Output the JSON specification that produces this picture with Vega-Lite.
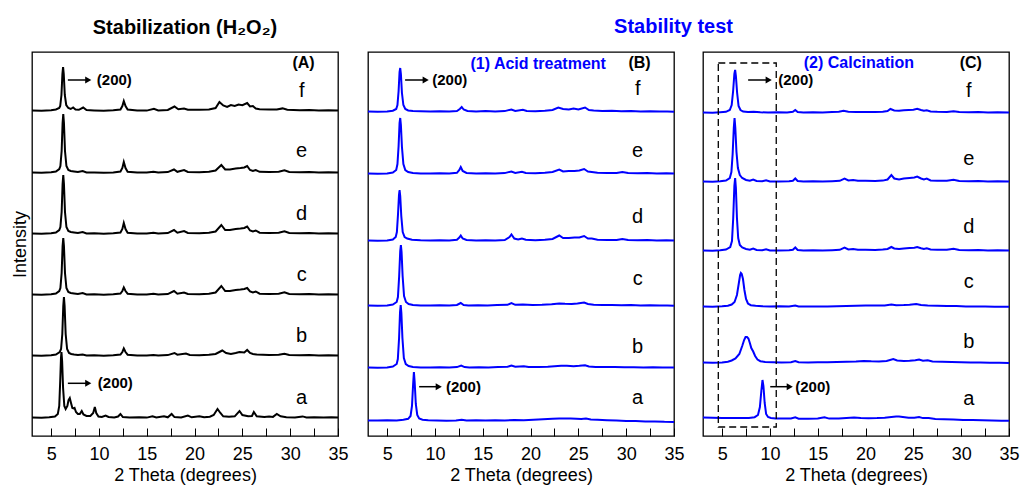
{
"$schema":"https://vega.github.io/schema/vega-lite/v6.json",
"padding":{"left":10,"right":5,"top":17,"bottom":4},
"config":{"font":"Liberation Sans","view":{"stroke":"black","strokeWidth":1.3},"text":{"font":"Liberation Sans"},"title":{"font":"Liberation Sans"},"axis":{"labelFont":"Liberation Sans","titleFont":"Liberation Sans"}},
"spacing":14,
"datasets":{
"A":[
{"s":"f","x":3,"y":325.5},{"s":"f","x":4,"y":325.2},{"s":"f","x":5,"y":325.8},{"s":"f","x":5.5,"y":326.5},{"s":"f","x":5.85,"y":328},{"s":"f","x":5.95,"y":330},{"s":"f","x":6.08,"y":341},{"s":"f","x":6.18,"y":362},{"s":"f","x":6.25,"y":369},{"s":"f","x":6.32,"y":362},{"s":"f","x":6.43,"y":341},{"s":"f","x":6.58,"y":331},{"s":"f","x":6.8,"y":328},{"s":"f","x":7.05,"y":327},{"s":"f","x":7.3,"y":328.5},{"s":"f","x":7.55,"y":326.5},{"s":"f","x":7.9,"y":326.2},{"s":"f","x":8.35,"y":328.5},{"s":"f","x":8.7,"y":326},{"s":"f","x":9.5,"y":325.6},{"s":"f","x":10.5,"y":325.3},{"s":"f","x":11.5,"y":325.7},{"s":"f","x":12.25,"y":326.5},{"s":"f","x":12.45,"y":330},{"s":"f","x":12.6,"y":335},{"s":"f","x":12.78,"y":330},{"s":"f","x":13,"y":326.5},{"s":"f","x":14,"y":325.6},{"s":"f","x":15,"y":325.4},{"s":"f","x":15.75,"y":327.3},{"s":"f","x":16.2,"y":325.6},{"s":"f","x":17.2,"y":326},{"s":"f","x":17.9,"y":329.5},{"s":"f","x":18.3,"y":326.8},{"s":"f","x":18.9,"y":327.5},{"s":"f","x":19.3,"y":326.2},{"s":"f","x":20.5,"y":326.3},{"s":"f","x":21.5,"y":326.6},{"s":"f","x":22.2,"y":328},{"s":"f","x":22.6,"y":334},{"s":"f","x":23,"y":330.5},{"s":"f","x":23.4,"y":329},{"s":"f","x":23.8,"y":331},{"s":"f","x":24.2,"y":330},{"s":"f","x":24.6,"y":331.5},{"s":"f","x":25,"y":330.8},{"s":"f","x":25.5,"y":333},{"s":"f","x":25.8,"y":329.5},{"s":"f","x":26.1,"y":330},{"s":"f","x":26.4,"y":327.5},{"s":"f","x":26.8,"y":326.8},{"s":"f","x":27.8,"y":326.4},{"s":"f","x":28.6,"y":326.6},{"s":"f","x":29.2,"y":327.6},{"s":"f","x":29.7,"y":326.2},{"s":"f","x":31,"y":325.8},{"s":"f","x":32,"y":326},{"s":"f","x":33,"y":325.5},{"s":"f","x":34,"y":325.8},{"s":"f","x":35,"y":325.4},
{"s":"e","x":3,"y":263.5},{"s":"e","x":4,"y":263.2},{"s":"e","x":5,"y":263.8},{"s":"e","x":5.5,"y":264.5},{"s":"e","x":5.85,"y":267},{"s":"e","x":5.97,"y":270},{"s":"e","x":6.1,"y":285},{"s":"e","x":6.2,"y":313},{"s":"e","x":6.27,"y":322},{"s":"e","x":6.34,"y":313},{"s":"e","x":6.45,"y":285},{"s":"e","x":6.6,"y":270},{"s":"e","x":6.8,"y":266},{"s":"e","x":7.05,"y":265},{"s":"e","x":7.4,"y":264.6},{"s":"e","x":7.8,"y":264},{"s":"e","x":8.3,"y":265},{"s":"e","x":8.7,"y":263.6},{"s":"e","x":9.5,"y":263.6},{"s":"e","x":10.5,"y":263.3},{"s":"e","x":11.5,"y":263.6},{"s":"e","x":12.25,"y":264.5},{"s":"e","x":12.45,"y":268},{"s":"e","x":12.6,"y":274},{"s":"e","x":12.78,"y":268},{"s":"e","x":13,"y":264.3},{"s":"e","x":14,"y":263.6},{"s":"e","x":15,"y":263.4},{"s":"e","x":15.7,"y":264.3},{"s":"e","x":16.2,"y":263.5},{"s":"e","x":17.2,"y":263.9},{"s":"e","x":17.85,"y":266.5},{"s":"e","x":18.2,"y":264.2},{"s":"e","x":18.9,"y":266},{"s":"e","x":19.3,"y":264},{"s":"e","x":20.5,"y":263.8},{"s":"e","x":21.5,"y":264.2},{"s":"e","x":22.2,"y":265.5},{"s":"e","x":22.8,"y":271},{"s":"e","x":23.2,"y":266.5},{"s":"e","x":23.7,"y":266.5},{"s":"e","x":24.3,"y":267.5},{"s":"e","x":24.8,"y":268},{"s":"e","x":25.2,"y":268.5},{"s":"e","x":25.5,"y":270},{"s":"e","x":25.8,"y":266},{"s":"e","x":26.1,"y":265},{"s":"e","x":26.4,"y":266},{"s":"e","x":26.8,"y":264.2},{"s":"e","x":27.8,"y":264},{"s":"e","x":28.8,"y":264.2},{"s":"e","x":29.4,"y":265.8},{"s":"e","x":29.9,"y":264},{"s":"e","x":31,"y":263.7},{"s":"e","x":32,"y":263.9},{"s":"e","x":33,"y":263.5},{"s":"e","x":34,"y":263.8},{"s":"e","x":35,"y":263.4},
{"s":"d","x":3,"y":202.5},{"s":"d","x":4,"y":202.3},{"s":"d","x":5,"y":202.8},{"s":"d","x":5.5,"y":203.5},{"s":"d","x":5.85,"y":206},{"s":"d","x":5.97,"y":209},{"s":"d","x":6.1,"y":224},{"s":"d","x":6.2,"y":252},{"s":"d","x":6.27,"y":261},{"s":"d","x":6.34,"y":252},{"s":"d","x":6.45,"y":224},{"s":"d","x":6.6,"y":209},{"s":"d","x":6.8,"y":205},{"s":"d","x":7.05,"y":204},{"s":"d","x":7.4,"y":203.5},{"s":"d","x":7.8,"y":203},{"s":"d","x":8.3,"y":204},{"s":"d","x":8.7,"y":202.6},{"s":"d","x":9.5,"y":202.7},{"s":"d","x":10.5,"y":202.3},{"s":"d","x":11.5,"y":202.7},{"s":"d","x":12.25,"y":203.5},{"s":"d","x":12.45,"y":207},{"s":"d","x":12.6,"y":213},{"s":"d","x":12.78,"y":207},{"s":"d","x":13,"y":203.3},{"s":"d","x":14,"y":202.6},{"s":"d","x":15,"y":202.4},{"s":"d","x":15.7,"y":203.3},{"s":"d","x":16.2,"y":202.5},{"s":"d","x":17.2,"y":202.9},{"s":"d","x":17.85,"y":206},{"s":"d","x":18.2,"y":203.3},{"s":"d","x":18.9,"y":205},{"s":"d","x":19.3,"y":203},{"s":"d","x":20.5,"y":202.8},{"s":"d","x":21.5,"y":203.2},{"s":"d","x":22.2,"y":204.5},{"s":"d","x":22.8,"y":211},{"s":"d","x":23.2,"y":206},{"s":"d","x":23.7,"y":206},{"s":"d","x":24.3,"y":207},{"s":"d","x":24.8,"y":207.5},{"s":"d","x":25.2,"y":208},{"s":"d","x":25.5,"y":209.5},{"s":"d","x":25.8,"y":205.5},{"s":"d","x":26.1,"y":204.5},{"s":"d","x":26.4,"y":205.5},{"s":"d","x":26.8,"y":203.3},{"s":"d","x":27.8,"y":203},{"s":"d","x":28.8,"y":203.2},{"s":"d","x":29.4,"y":204.8},{"s":"d","x":29.9,"y":203},{"s":"d","x":31,"y":202.7},{"s":"d","x":32,"y":202.9},{"s":"d","x":33,"y":202.5},{"s":"d","x":34,"y":202.8},{"s":"d","x":35,"y":202.4},
{"s":"c","x":3,"y":141.5},{"s":"c","x":4,"y":141.3},{"s":"c","x":5,"y":141.8},{"s":"c","x":5.5,"y":142.5},{"s":"c","x":5.85,"y":145},{"s":"c","x":5.97,"y":148},{"s":"c","x":6.1,"y":163},{"s":"c","x":6.2,"y":190},{"s":"c","x":6.27,"y":198},{"s":"c","x":6.34,"y":190},{"s":"c","x":6.45,"y":163},{"s":"c","x":6.6,"y":148},{"s":"c","x":6.8,"y":144},{"s":"c","x":7.05,"y":143},{"s":"c","x":7.4,"y":142.5},{"s":"c","x":7.8,"y":142},{"s":"c","x":8.3,"y":143},{"s":"c","x":8.7,"y":141.6},{"s":"c","x":9.5,"y":141.7},{"s":"c","x":10.5,"y":141.3},{"s":"c","x":11.5,"y":141.7},{"s":"c","x":12.25,"y":142.5},{"s":"c","x":12.45,"y":145},{"s":"c","x":12.6,"y":148.5},{"s":"c","x":12.78,"y":145},{"s":"c","x":13,"y":142.3},{"s":"c","x":14,"y":141.6},{"s":"c","x":15,"y":141.4},{"s":"c","x":15.7,"y":142.2},{"s":"c","x":16.2,"y":141.5},{"s":"c","x":17.2,"y":141.9},{"s":"c","x":17.85,"y":145},{"s":"c","x":18.2,"y":142.3},{"s":"c","x":18.9,"y":143.5},{"s":"c","x":19.3,"y":142},{"s":"c","x":20.5,"y":141.8},{"s":"c","x":21.5,"y":142.2},{"s":"c","x":22.2,"y":143.5},{"s":"c","x":22.8,"y":150},{"s":"c","x":23.2,"y":145},{"s":"c","x":23.7,"y":145},{"s":"c","x":24.3,"y":146},{"s":"c","x":24.8,"y":146.5},{"s":"c","x":25.2,"y":147},{"s":"c","x":25.5,"y":148},{"s":"c","x":25.8,"y":144.5},{"s":"c","x":26.1,"y":143.5},{"s":"c","x":26.4,"y":144.5},{"s":"c","x":26.8,"y":142.3},{"s":"c","x":27.8,"y":142},{"s":"c","x":28.8,"y":142.2},{"s":"c","x":29.4,"y":143.8},{"s":"c","x":29.9,"y":142},{"s":"c","x":31,"y":141.7},{"s":"c","x":32,"y":141.9},{"s":"c","x":33,"y":141.5},{"s":"c","x":34,"y":141.8},{"s":"c","x":35,"y":141.4},
{"s":"b","x":3,"y":80.5},{"s":"b","x":4,"y":80.3},{"s":"b","x":5,"y":80.8},{"s":"b","x":5.5,"y":81.5},{"s":"b","x":5.9,"y":84},{"s":"b","x":6.04,"y":87},{"s":"b","x":6.17,"y":102},{"s":"b","x":6.27,"y":130},{"s":"b","x":6.34,"y":139},{"s":"b","x":6.41,"y":130},{"s":"b","x":6.52,"y":102},{"s":"b","x":6.67,"y":87},{"s":"b","x":6.87,"y":83},{"s":"b","x":7.1,"y":82},{"s":"b","x":7.4,"y":81.5},{"s":"b","x":7.8,"y":81},{"s":"b","x":8.3,"y":81.5},{"s":"b","x":8.7,"y":80.6},{"s":"b","x":9.5,"y":80.7},{"s":"b","x":10.5,"y":80.3},{"s":"b","x":11.5,"y":80.7},{"s":"b","x":12.25,"y":81.5},{"s":"b","x":12.45,"y":84},{"s":"b","x":12.6,"y":87.5},{"s":"b","x":12.78,"y":84},{"s":"b","x":13,"y":81.3},{"s":"b","x":14,"y":80.6},{"s":"b","x":15,"y":80.4},{"s":"b","x":15.7,"y":81},{"s":"b","x":16.2,"y":80.5},{"s":"b","x":17.2,"y":80.9},{"s":"b","x":17.9,"y":83},{"s":"b","x":18.2,"y":81.3},{"s":"b","x":19.1,"y":82.5},{"s":"b","x":19.5,"y":81},{"s":"b","x":20.5,"y":80.8},{"s":"b","x":21.5,"y":81.2},{"s":"b","x":22.2,"y":82},{"s":"b","x":22.9,"y":85.5},{"s":"b","x":23.3,"y":83},{"s":"b","x":23.8,"y":82},{"s":"b","x":24.3,"y":83},{"s":"b","x":24.7,"y":84},{"s":"b","x":25.2,"y":83.5},{"s":"b","x":25.5,"y":86},{"s":"b","x":25.8,"y":83},{"s":"b","x":26.1,"y":82},{"s":"b","x":26.5,"y":81.5},{"s":"b","x":27.8,"y":81},{"s":"b","x":28.8,"y":81.2},{"s":"b","x":29.4,"y":82.3},{"s":"b","x":29.9,"y":81},{"s":"b","x":31,"y":80.7},{"s":"b","x":32,"y":80.9},{"s":"b","x":33,"y":80.5},{"s":"b","x":34,"y":80.8},{"s":"b","x":35,"y":80.4},
{"s":"a","x":3,"y":18.5},{"s":"a","x":4,"y":18.3},{"s":"a","x":4.8,"y":18.8},{"s":"a","x":5.4,"y":19.5},{"s":"a","x":5.7,"y":22},{"s":"a","x":5.85,"y":30},{"s":"a","x":5.95,"y":55},{"s":"a","x":6.03,"y":78},{"s":"a","x":6.08,"y":84},{"s":"a","x":6.15,"y":75},{"s":"a","x":6.25,"y":48},{"s":"a","x":6.38,"y":30},{"s":"a","x":6.52,"y":27},{"s":"a","x":6.7,"y":30},{"s":"a","x":6.82,"y":36},{"s":"a","x":6.95,"y":38},{"s":"a","x":7.08,"y":33},{"s":"a","x":7.22,"y":28},{"s":"a","x":7.35,"y":27.5},{"s":"a","x":7.45,"y":28},{"s":"a","x":7.6,"y":24},{"s":"a","x":7.8,"y":22},{"s":"a","x":8,"y":22},{"s":"a","x":8.2,"y":25},{"s":"a","x":8.38,"y":21.5},{"s":"a","x":8.7,"y":20},{"s":"a","x":9.1,"y":20},{"s":"a","x":9.4,"y":23},{"s":"a","x":9.57,"y":29},{"s":"a","x":9.72,"y":23},{"s":"a","x":9.95,"y":19.5},{"s":"a","x":10.3,"y":19},{"s":"a","x":10.7,"y":20.5},{"s":"a","x":11,"y":19},{"s":"a","x":11.6,"y":18.6},{"s":"a","x":12,"y":19.5},{"s":"a","x":12.25,"y":22},{"s":"a","x":12.5,"y":19},{"s":"a","x":13.2,"y":18.5},{"s":"a","x":14.2,"y":18.7},{"s":"a","x":15,"y":18.4},{"s":"a","x":15.6,"y":19.8},{"s":"a","x":16,"y":18.5},{"s":"a","x":16.8,"y":19.8},{"s":"a","x":17.2,"y":18.7},{"s":"a","x":17.6,"y":22},{"s":"a","x":17.9,"y":18.9},{"s":"a","x":18.6,"y":18.6},{"s":"a","x":19.3,"y":20.5},{"s":"a","x":19.7,"y":18.7},{"s":"a","x":20.5,"y":19.8},{"s":"a","x":21,"y":18.7},{"s":"a","x":21.6,"y":19.3},{"s":"a","x":22,"y":21},{"s":"a","x":22.4,"y":27},{"s":"a","x":22.7,"y":23},{"s":"a","x":23,"y":19.7},{"s":"a","x":23.6,"y":19.2},{"s":"a","x":24.2,"y":19.7},{"s":"a","x":24.7,"y":25},{"s":"a","x":25,"y":21},{"s":"a","x":25.6,"y":19.7},{"s":"a","x":26,"y":20},{"s":"a","x":26.2,"y":24},{"s":"a","x":26.5,"y":19.7},{"s":"a","x":27.3,"y":18.9},{"s":"a","x":27.8,"y":19.6},{"s":"a","x":28.2,"y":19.1},{"s":"a","x":28.6,"y":22},{"s":"a","x":29,"y":19.7},{"s":"a","x":29.6,"y":18.8},{"s":"a","x":30.5,"y":18.6},{"s":"a","x":31.3,"y":19.6},{"s":"a","x":31.7,"y":18.6},{"s":"a","x":32.5,"y":18.8},{"s":"a","x":33.5,"y":18.5},{"s":"a","x":34.3,"y":18.8},{"s":"a","x":35,"y":18.5}
],
"B":[
{"s":"f","x":3,"y":324.4},{"s":"f","x":4,"y":324.2},{"s":"f","x":5,"y":324.6},{"s":"f","x":5.6,"y":325.3},{"s":"f","x":5.95,"y":327},{"s":"f","x":6.08,"y":331},{"s":"f","x":6.2,"y":345},{"s":"f","x":6.3,"y":364},{"s":"f","x":6.37,"y":368},{"s":"f","x":6.44,"y":362},{"s":"f","x":6.55,"y":343},{"s":"f","x":6.7,"y":331},{"s":"f","x":6.9,"y":327},{"s":"f","x":7.2,"y":325.5},{"s":"f","x":7.7,"y":325},{"s":"f","x":8.5,"y":324.8},{"s":"f","x":9.5,"y":324.5},{"s":"f","x":10.5,"y":324.7},{"s":"f","x":11.5,"y":324.4},{"s":"f","x":12.3,"y":325},{"s":"f","x":12.6,"y":327},{"s":"f","x":12.8,"y":329},{"s":"f","x":13,"y":326.5},{"s":"f","x":13.4,"y":325},{"s":"f","x":14.3,"y":324.6},{"s":"f","x":15.3,"y":324.9},{"s":"f","x":16.3,"y":324.5},{"s":"f","x":17.3,"y":324.9},{"s":"f","x":18,"y":326.5},{"s":"f","x":18.4,"y":325},{"s":"f","x":19.2,"y":326.3},{"s":"f","x":19.6,"y":325},{"s":"f","x":20.5,"y":324.8},{"s":"f","x":21.5,"y":325.2},{"s":"f","x":22.3,"y":326},{"s":"f","x":22.9,"y":328.5},{"s":"f","x":23.4,"y":327},{"s":"f","x":24,"y":326.5},{"s":"f","x":24.5,"y":327.5},{"s":"f","x":25,"y":326.5},{"s":"f","x":25.7,"y":328.5},{"s":"f","x":26.1,"y":326},{"s":"f","x":26.6,"y":325.5},{"s":"f","x":27.5,"y":325},{"s":"f","x":28.5,"y":325.2},{"s":"f","x":29.5,"y":324.8},{"s":"f","x":30.5,"y":324.9},{"s":"f","x":31.5,"y":324.5},{"s":"f","x":32.5,"y":324.8},{"s":"f","x":33.5,"y":324.4},{"s":"f","x":34.3,"y":324.6},{"s":"f","x":35,"y":324.3},
{"s":"e","x":3,"y":262.4},{"s":"e","x":4,"y":262.2},{"s":"e","x":5,"y":262.6},{"s":"e","x":5.6,"y":263.5},{"s":"e","x":5.95,"y":266},{"s":"e","x":6.08,"y":272},{"s":"e","x":6.2,"y":290},{"s":"e","x":6.3,"y":313},{"s":"e","x":6.37,"y":318},{"s":"e","x":6.44,"y":311},{"s":"e","x":6.55,"y":289},{"s":"e","x":6.7,"y":272},{"s":"e","x":6.9,"y":266},{"s":"e","x":7.2,"y":264},{"s":"e","x":7.7,"y":263},{"s":"e","x":8.5,"y":262.6},{"s":"e","x":9.5,"y":262.4},{"s":"e","x":10.5,"y":262.7},{"s":"e","x":11.5,"y":262.4},{"s":"e","x":12.3,"y":263.2},{"s":"e","x":12.55,"y":266},{"s":"e","x":12.7,"y":269},{"s":"e","x":12.9,"y":265},{"s":"e","x":13.3,"y":263},{"s":"e","x":14.3,"y":262.6},{"s":"e","x":15.3,"y":262.8},{"s":"e","x":16.3,"y":262.5},{"s":"e","x":17.3,"y":262.9},{"s":"e","x":18,"y":264.5},{"s":"e","x":18.4,"y":263},{"s":"e","x":19.1,"y":264.3},{"s":"e","x":19.5,"y":263},{"s":"e","x":20.5,"y":262.8},{"s":"e","x":21.5,"y":263.2},{"s":"e","x":22.3,"y":264},{"s":"e","x":23,"y":266.5},{"s":"e","x":23.4,"y":264.5},{"s":"e","x":24,"y":265},{"s":"e","x":24.6,"y":265},{"s":"e","x":25.1,"y":265.5},{"s":"e","x":25.6,"y":267},{"s":"e","x":26,"y":264.5},{"s":"e","x":26.4,"y":264},{"s":"e","x":27,"y":263.3},{"s":"e","x":28,"y":263},{"s":"e","x":29,"y":263.1},{"s":"e","x":29.6,"y":264},{"s":"e","x":30.2,"y":262.9},{"s":"e","x":31.2,"y":262.7},{"s":"e","x":32.2,"y":262.9},{"s":"e","x":33.2,"y":262.5},{"s":"e","x":34.2,"y":262.7},{"s":"e","x":35,"y":262.4},
{"s":"d","x":3,"y":195.4},{"s":"d","x":4,"y":195.2},{"s":"d","x":5,"y":195.6},{"s":"d","x":5.6,"y":196.5},{"s":"d","x":5.9,"y":199},{"s":"d","x":6.02,"y":204},{"s":"d","x":6.14,"y":222},{"s":"d","x":6.24,"y":241},{"s":"d","x":6.3,"y":246},{"s":"d","x":6.37,"y":240},{"s":"d","x":6.48,"y":220},{"s":"d","x":6.63,"y":204},{"s":"d","x":6.83,"y":199},{"s":"d","x":7.1,"y":197.5},{"s":"d","x":7.6,"y":196.3},{"s":"d","x":8.5,"y":195.7},{"s":"d","x":9.5,"y":195.4},{"s":"d","x":10.5,"y":195.7},{"s":"d","x":11.5,"y":195.4},{"s":"d","x":12.3,"y":196.2},{"s":"d","x":12.55,"y":198.5},{"s":"d","x":12.7,"y":200.5},{"s":"d","x":12.9,"y":197.5},{"s":"d","x":13.3,"y":196},{"s":"d","x":14.3,"y":195.6},{"s":"d","x":15.3,"y":195.8},{"s":"d","x":16.3,"y":195.5},{"s":"d","x":17.3,"y":196},{"s":"d","x":17.8,"y":199},{"s":"d","x":18,"y":201.5},{"s":"d","x":18.3,"y":197.5},{"s":"d","x":18.7,"y":196.5},{"s":"d","x":19.1,"y":197.5},{"s":"d","x":19.5,"y":196.2},{"s":"d","x":20.5,"y":195.8},{"s":"d","x":21.5,"y":196.2},{"s":"d","x":22.3,"y":197},{"s":"d","x":23,"y":200.5},{"s":"d","x":23.4,"y":198},{"s":"d","x":24,"y":198},{"s":"d","x":24.6,"y":198.5},{"s":"d","x":25.1,"y":198.5},{"s":"d","x":25.6,"y":200},{"s":"d","x":26,"y":197.5},{"s":"d","x":26.4,"y":197.5},{"s":"d","x":27,"y":196.3},{"s":"d","x":28,"y":196},{"s":"d","x":29,"y":196.1},{"s":"d","x":29.6,"y":197},{"s":"d","x":30.2,"y":195.9},{"s":"d","x":31.2,"y":195.7},{"s":"d","x":32.2,"y":195.9},{"s":"d","x":33.2,"y":195.5},{"s":"d","x":34.2,"y":195.7},{"s":"d","x":35,"y":195.4},
{"s":"c","x":3,"y":130.4},{"s":"c","x":4,"y":130.2},{"s":"c","x":5,"y":130.6},{"s":"c","x":5.6,"y":131.5},{"s":"c","x":6,"y":134},{"s":"c","x":6.13,"y":139},{"s":"c","x":6.26,"y":160},{"s":"c","x":6.37,"y":185},{"s":"c","x":6.44,"y":191},{"s":"c","x":6.51,"y":184},{"s":"c","x":6.62,"y":160},{"s":"c","x":6.77,"y":140},{"s":"c","x":6.97,"y":134},{"s":"c","x":7.25,"y":132},{"s":"c","x":7.7,"y":131},{"s":"c","x":8.5,"y":130.6},{"s":"c","x":9.5,"y":130.4},{"s":"c","x":10.5,"y":130.7},{"s":"c","x":11.5,"y":130.4},{"s":"c","x":12.3,"y":131},{"s":"c","x":12.7,"y":133},{"s":"c","x":13,"y":131},{"s":"c","x":13.5,"y":130.6},{"s":"c","x":14.5,"y":130.8},{"s":"c","x":15.5,"y":130.5},{"s":"c","x":16.5,"y":130.9},{"s":"c","x":17.6,"y":131.2},{"s":"c","x":18,"y":133},{"s":"c","x":18.4,"y":131.2},{"s":"c","x":19.2,"y":131.5},{"s":"c","x":20.2,"y":130.9},{"s":"c","x":21.2,"y":131.2},{"s":"c","x":22.2,"y":131.8},{"s":"c","x":23,"y":132.5},{"s":"c","x":23.6,"y":132.2},{"s":"c","x":24.3,"y":132},{"s":"c","x":24.9,"y":132.5},{"s":"c","x":25.6,"y":133.5},{"s":"c","x":26,"y":132},{"s":"c","x":26.6,"y":131.3},{"s":"c","x":27.5,"y":131},{"s":"c","x":28.5,"y":131.1},{"s":"c","x":29.5,"y":130.8},{"s":"c","x":30.5,"y":130.9},{"s":"c","x":31.5,"y":130.5},{"s":"c","x":32.5,"y":130.8},{"s":"c","x":33.5,"y":130.4},{"s":"c","x":34.3,"y":130.6},{"s":"c","x":35,"y":130.3},
{"s":"b","x":3,"y":68.4},{"s":"b","x":4,"y":68.2},{"s":"b","x":5,"y":68.6},{"s":"b","x":5.6,"y":69.5},{"s":"b","x":6,"y":72},{"s":"b","x":6.12,"y":77},{"s":"b","x":6.25,"y":98},{"s":"b","x":6.35,"y":124},{"s":"b","x":6.42,"y":131},{"s":"b","x":6.49,"y":123},{"s":"b","x":6.6,"y":98},{"s":"b","x":6.75,"y":78},{"s":"b","x":6.95,"y":72},{"s":"b","x":7.25,"y":70},{"s":"b","x":7.7,"y":69},{"s":"b","x":8.5,"y":68.6},{"s":"b","x":9.5,"y":68.4},{"s":"b","x":10.5,"y":68.7},{"s":"b","x":11.5,"y":68.4},{"s":"b","x":12.3,"y":68.9},{"s":"b","x":12.75,"y":70.5},{"s":"b","x":13.1,"y":68.9},{"s":"b","x":13.6,"y":68.6},{"s":"b","x":14.6,"y":68.8},{"s":"b","x":15.6,"y":68.5},{"s":"b","x":16.6,"y":68.9},{"s":"b","x":17.6,"y":69.2},{"s":"b","x":18,"y":70.5},{"s":"b","x":18.4,"y":69.2},{"s":"b","x":19.3,"y":69.8},{"s":"b","x":19.8,"y":69},{"s":"b","x":20.8,"y":68.9},{"s":"b","x":21.8,"y":69.2},{"s":"b","x":22.5,"y":69.8},{"s":"b","x":23.2,"y":70.2},{"s":"b","x":23.8,"y":70.3},{"s":"b","x":24.5,"y":69.8},{"s":"b","x":25.1,"y":70.2},{"s":"b","x":25.7,"y":70.8},{"s":"b","x":26.1,"y":69.5},{"s":"b","x":26.8,"y":69.1},{"s":"b","x":27.8,"y":68.9},{"s":"b","x":28.8,"y":69},{"s":"b","x":29.8,"y":68.7},{"s":"b","x":30.8,"y":68.8},{"s":"b","x":31.8,"y":68.5},{"s":"b","x":32.8,"y":68.7},{"s":"b","x":33.8,"y":68.4},{"s":"b","x":35,"y":68.5},
{"s":"a","x":3,"y":15.6},{"s":"a","x":4,"y":15.4},{"s":"a","x":5,"y":15.8},{"s":"a","x":6,"y":15.6},{"s":"a","x":6.7,"y":16.2},{"s":"a","x":7.2,"y":17.2},{"s":"a","x":7.45,"y":20},{"s":"a","x":7.6,"y":30},{"s":"a","x":7.72,"y":52},{"s":"a","x":7.8,"y":64},{"s":"a","x":7.88,"y":54},{"s":"a","x":8,"y":32},{"s":"a","x":8.15,"y":21},{"s":"a","x":8.35,"y":17.5},{"s":"a","x":8.7,"y":16.3},{"s":"a","x":9.3,"y":15.8},{"s":"a","x":10.2,"y":15.6},{"s":"a","x":11.2,"y":15.3},{"s":"a","x":12.2,"y":15.6},{"s":"a","x":12.8,"y":16.2},{"s":"a","x":13.3,"y":15.5},{"s":"a","x":14.3,"y":15.7},{"s":"a","x":15.3,"y":15.4},{"s":"a","x":16.3,"y":15.7},{"s":"a","x":17.3,"y":15.5},{"s":"a","x":18.3,"y":15.9},{"s":"a","x":19.3,"y":15.8},{"s":"a","x":20.3,"y":16.3},{"s":"a","x":21.3,"y":16.8},{"s":"a","x":22.3,"y":17.2},{"s":"a","x":23,"y":17.4},{"s":"a","x":23.6,"y":17.6},{"s":"a","x":24.2,"y":17.5},{"s":"a","x":24.8,"y":17.2},{"s":"a","x":25.3,"y":17},{"s":"a","x":25.8,"y":17.6},{"s":"a","x":26.3,"y":16.6},{"s":"a","x":27,"y":16.2},{"s":"a","x":28,"y":15.8},{"s":"a","x":29,"y":15.5},{"s":"a","x":30,"y":15.1},{"s":"a","x":31,"y":15},{"s":"a","x":32,"y":14.6},{"s":"a","x":33,"y":14.6},{"s":"a","x":34,"y":14.2},{"s":"a","x":35,"y":14.1}
],
"C":[
{"s":"f","x":3,"y":323.4},{"s":"f","x":4,"y":323.2},{"s":"f","x":4.8,"y":323.7},{"s":"f","x":5.4,"y":324.2},{"s":"f","x":5.8,"y":326},{"s":"f","x":6,"y":331},{"s":"f","x":6.15,"y":345},{"s":"f","x":6.28,"y":362},{"s":"f","x":6.36,"y":366},{"s":"f","x":6.44,"y":360},{"s":"f","x":6.57,"y":343},{"s":"f","x":6.72,"y":330},{"s":"f","x":6.92,"y":326},{"s":"f","x":7.2,"y":324.5},{"s":"f","x":7.7,"y":324},{"s":"f","x":8.3,"y":324.2},{"s":"f","x":9,"y":323.7},{"s":"f","x":9.8,"y":323.5},{"s":"f","x":10.8,"y":323.7},{"s":"f","x":11.8,"y":323.5},{"s":"f","x":12.4,"y":324.2},{"s":"f","x":12.65,"y":326},{"s":"f","x":12.9,"y":324},{"s":"f","x":13.5,"y":323.6},{"s":"f","x":14.5,"y":323.8},{"s":"f","x":15.5,"y":323.6},{"s":"f","x":16.5,"y":323.9},{"s":"f","x":17.2,"y":324.2},{"s":"f","x":17.7,"y":325.2},{"s":"f","x":18.2,"y":324.3},{"s":"f","x":19,"y":324},{"s":"f","x":20,"y":324.1},{"s":"f","x":21,"y":323.9},{"s":"f","x":21.8,"y":324.3},{"s":"f","x":22.3,"y":325},{"s":"f","x":22.6,"y":327},{"s":"f","x":23,"y":325.5},{"s":"f","x":23.5,"y":325.3},{"s":"f","x":24,"y":325.8},{"s":"f","x":24.5,"y":326},{"s":"f","x":25,"y":326.2},{"s":"f","x":25.4,"y":327.2},{"s":"f","x":25.8,"y":326},{"s":"f","x":26.1,"y":325.3},{"s":"f","x":26.4,"y":325.8},{"s":"f","x":26.8,"y":324.6},{"s":"f","x":27.5,"y":324.2},{"s":"f","x":28.5,"y":324},{"s":"f","x":29.2,"y":324.8},{"s":"f","x":29.8,"y":323.9},{"s":"f","x":30.8,"y":323.7},{"s":"f","x":31.8,"y":323.9},{"s":"f","x":32.8,"y":323.5},{"s":"f","x":33.8,"y":323.7},{"s":"f","x":35,"y":323.4},
{"s":"e","x":3,"y":254.4},{"s":"e","x":4,"y":254.2},{"s":"e","x":4.8,"y":254.7},{"s":"e","x":5.4,"y":255.5},{"s":"e","x":5.8,"y":258},{"s":"e","x":5.97,"y":264},{"s":"e","x":6.1,"y":282},{"s":"e","x":6.22,"y":308},{"s":"e","x":6.3,"y":318},{"s":"e","x":6.38,"y":308},{"s":"e","x":6.5,"y":284},{"s":"e","x":6.65,"y":268},{"s":"e","x":6.85,"y":261},{"s":"e","x":7.1,"y":258},{"s":"e","x":7.5,"y":256},{"s":"e","x":7.9,"y":255.2},{"s":"e","x":8.25,"y":256.5},{"s":"e","x":8.6,"y":255},{"s":"e","x":9.2,"y":254.7},{"s":"e","x":9.6,"y":255.8},{"s":"e","x":10,"y":254.6},{"s":"e","x":11,"y":254.4},{"s":"e","x":12,"y":254.8},{"s":"e","x":12.4,"y":255.3},{"s":"e","x":12.65,"y":257.5},{"s":"e","x":12.9,"y":255},{"s":"e","x":13.5,"y":254.5},{"s":"e","x":14.5,"y":254.7},{"s":"e","x":15.5,"y":254.4},{"s":"e","x":16.5,"y":254.8},{"s":"e","x":17.3,"y":255.2},{"s":"e","x":17.8,"y":257.5},{"s":"e","x":18.2,"y":255.5},{"s":"e","x":18.7,"y":256},{"s":"e","x":19.2,"y":255.2},{"s":"e","x":20,"y":255.2},{"s":"e","x":21,"y":255},{"s":"e","x":21.8,"y":255.4},{"s":"e","x":22.3,"y":256.5},{"s":"e","x":22.7,"y":261},{"s":"e","x":23,"y":257.5},{"s":"e","x":23.5,"y":256.5},{"s":"e","x":24,"y":257.5},{"s":"e","x":24.6,"y":258},{"s":"e","x":25.1,"y":258.5},{"s":"e","x":25.4,"y":259.5},{"s":"e","x":25.8,"y":257.5},{"s":"e","x":26.1,"y":256.5},{"s":"e","x":26.4,"y":257.5},{"s":"e","x":26.8,"y":255.6},{"s":"e","x":27.5,"y":255.2},{"s":"e","x":28.5,"y":255.3},{"s":"e","x":29.2,"y":256.2},{"s":"e","x":29.8,"y":255},{"s":"e","x":30.8,"y":254.8},{"s":"e","x":31.8,"y":254.9},{"s":"e","x":32.8,"y":254.5},{"s":"e","x":33.8,"y":254.7},{"s":"e","x":35,"y":254.4},
{"s":"d","x":3,"y":185.4},{"s":"d","x":4,"y":185.2},{"s":"d","x":4.8,"y":185.7},{"s":"d","x":5.4,"y":186.5},{"s":"d","x":5.85,"y":189},{"s":"d","x":6.03,"y":195},{"s":"d","x":6.16,"y":218},{"s":"d","x":6.28,"y":250},{"s":"d","x":6.36,"y":258},{"s":"d","x":6.44,"y":248},{"s":"d","x":6.55,"y":218},{"s":"d","x":6.68,"y":198},{"s":"d","x":6.85,"y":191},{"s":"d","x":7.1,"y":188.5},{"s":"d","x":7.5,"y":187},{"s":"d","x":7.9,"y":186.2},{"s":"d","x":8.25,"y":187.5},{"s":"d","x":8.6,"y":186},{"s":"d","x":9.2,"y":185.7},{"s":"d","x":9.6,"y":186.8},{"s":"d","x":10,"y":185.6},{"s":"d","x":11,"y":185.4},{"s":"d","x":12,"y":185.8},{"s":"d","x":12.4,"y":186.3},{"s":"d","x":12.65,"y":188.5},{"s":"d","x":12.9,"y":186},{"s":"d","x":13.5,"y":185.5},{"s":"d","x":14.5,"y":185.7},{"s":"d","x":15.5,"y":185.4},{"s":"d","x":16.5,"y":185.8},{"s":"d","x":17.3,"y":186.2},{"s":"d","x":17.8,"y":188.5},{"s":"d","x":18.2,"y":186.5},{"s":"d","x":18.7,"y":187},{"s":"d","x":19.2,"y":186.2},{"s":"d","x":20,"y":186.2},{"s":"d","x":21,"y":186},{"s":"d","x":21.8,"y":186.4},{"s":"d","x":22.3,"y":187},{"s":"d","x":22.7,"y":189},{"s":"d","x":23,"y":187.5},{"s":"d","x":23.5,"y":187},{"s":"d","x":24,"y":187.5},{"s":"d","x":24.6,"y":188},{"s":"d","x":25.1,"y":188.3},{"s":"d","x":25.4,"y":189},{"s":"d","x":25.8,"y":187.8},{"s":"d","x":26.1,"y":187},{"s":"d","x":26.4,"y":187.8},{"s":"d","x":26.8,"y":186.5},{"s":"d","x":27.5,"y":186.2},{"s":"d","x":28.5,"y":186.3},{"s":"d","x":29.2,"y":187.3},{"s":"d","x":29.8,"y":186},{"s":"d","x":30.8,"y":185.8},{"s":"d","x":31.8,"y":185.9},{"s":"d","x":32.8,"y":185.5},{"s":"d","x":33.8,"y":185.7},{"s":"d","x":35,"y":185.4},
{"s":"c","x":3,"y":129.5},{"s":"c","x":4,"y":129.3},{"s":"c","x":5,"y":129.8},{"s":"c","x":5.6,"y":130.3},{"s":"c","x":6,"y":131.5},{"s":"c","x":6.3,"y":134},{"s":"c","x":6.55,"y":141},{"s":"c","x":6.75,"y":153},{"s":"c","x":6.88,"y":161},{"s":"c","x":6.96,"y":163},{"s":"c","x":7.05,"y":162},{"s":"c","x":7.18,"y":157},{"s":"c","x":7.33,"y":146},{"s":"c","x":7.5,"y":137},{"s":"c","x":7.7,"y":132.5},{"s":"c","x":8,"y":130.8},{"s":"c","x":8.5,"y":130.2},{"s":"c","x":9.2,"y":129.8},{"s":"c","x":10,"y":129.6},{"s":"c","x":11,"y":129.8},{"s":"c","x":12,"y":129.5},{"s":"c","x":12.65,"y":130.5},{"s":"c","x":13,"y":129.6},{"s":"c","x":14,"y":129.4},{"s":"c","x":15,"y":129.6},{"s":"c","x":16,"y":129.5},{"s":"c","x":17,"y":129.8},{"s":"c","x":18,"y":130.1},{"s":"c","x":19,"y":130.3},{"s":"c","x":20,"y":130.4},{"s":"c","x":21,"y":130.4},{"s":"c","x":22,"y":130.6},{"s":"c","x":22.7,"y":131.5},{"s":"c","x":23.2,"y":130.8},{"s":"c","x":24,"y":131},{"s":"c","x":24.6,"y":131.3},{"s":"c","x":25.3,"y":132},{"s":"c","x":25.8,"y":131},{"s":"c","x":26.5,"y":130.6},{"s":"c","x":27.5,"y":130.3},{"s":"c","x":28.5,"y":130.1},{"s":"c","x":29.5,"y":129.9},{"s":"c","x":30.5,"y":129.6},{"s":"c","x":31.5,"y":129.5},{"s":"c","x":32.5,"y":129.4},{"s":"c","x":33.5,"y":129.2},{"s":"c","x":35,"y":129.2},
{"s":"b","x":3,"y":73.4},{"s":"b","x":4,"y":73.2},{"s":"b","x":5,"y":73.6},{"s":"b","x":5.6,"y":74.3},{"s":"b","x":6,"y":75.5},{"s":"b","x":6.4,"y":77.5},{"s":"b","x":6.8,"y":82},{"s":"b","x":7.1,"y":90},{"s":"b","x":7.3,"y":96},{"s":"b","x":7.45,"y":99},{"s":"b","x":7.6,"y":99},{"s":"b","x":7.75,"y":97.5},{"s":"b","x":7.9,"y":93},{"s":"b","x":8.05,"y":88},{"s":"b","x":8.25,"y":84.5},{"s":"b","x":8.45,"y":80},{"s":"b","x":8.7,"y":76.5},{"s":"b","x":9,"y":74.8},{"s":"b","x":9.5,"y":74},{"s":"b","x":10.3,"y":73.7},{"s":"b","x":11.2,"y":73.5},{"s":"b","x":12.2,"y":73.8},{"s":"b","x":12.65,"y":75},{"s":"b","x":13,"y":73.8},{"s":"b","x":14,"y":73.6},{"s":"b","x":15,"y":73.8},{"s":"b","x":16,"y":73.7},{"s":"b","x":17,"y":74},{"s":"b","x":18,"y":74.2},{"s":"b","x":19,"y":74.5},{"s":"b","x":19.8,"y":75},{"s":"b","x":20.6,"y":74.7},{"s":"b","x":21.4,"y":74.6},{"s":"b","x":22.2,"y":75},{"s":"b","x":22.9,"y":77},{"s":"b","x":23.3,"y":75.5},{"s":"b","x":24,"y":75},{"s":"b","x":24.6,"y":75.3},{"s":"b","x":25.2,"y":75.8},{"s":"b","x":25.6,"y":76.5},{"s":"b","x":26,"y":75.3},{"s":"b","x":26.5,"y":75.8},{"s":"b","x":27,"y":74.6},{"s":"b","x":28,"y":74.2},{"s":"b","x":29,"y":74},{"s":"b","x":30,"y":73.8},{"s":"b","x":31,"y":73.6},{"s":"b","x":32,"y":73.5},{"s":"b","x":33,"y":73.3},{"s":"b","x":34,"y":73.2},{"s":"b","x":35,"y":73.1},
{"s":"a","x":3,"y":18.4},{"s":"a","x":4,"y":18.2},{"s":"a","x":5,"y":18},{"s":"a","x":6,"y":18.1},{"s":"a","x":7,"y":18},{"s":"a","x":7.8,"y":18.1},{"s":"a","x":8.4,"y":18.8},{"s":"a","x":8.75,"y":21},{"s":"a","x":8.95,"y":29},{"s":"a","x":9.1,"y":45},{"s":"a","x":9.22,"y":56},{"s":"a","x":9.32,"y":50},{"s":"a","x":9.45,"y":33},{"s":"a","x":9.6,"y":22},{"s":"a","x":9.8,"y":19},{"s":"a","x":10.1,"y":18},{"s":"a","x":10.6,"y":17.5},{"s":"a","x":11.4,"y":17.4},{"s":"a","x":12.2,"y":17.5},{"s":"a","x":12.65,"y":18.6},{"s":"a","x":13,"y":17.3},{"s":"a","x":14,"y":17.2},{"s":"a","x":15,"y":17.4},{"s":"a","x":15.7,"y":18.8},{"s":"a","x":16.2,"y":17.4},{"s":"a","x":17.2,"y":17.4},{"s":"a","x":18,"y":17.9},{"s":"a","x":18.8,"y":18.5},{"s":"a","x":19.5,"y":18},{"s":"a","x":20.3,"y":17.8},{"s":"a","x":21.2,"y":17.9},{"s":"a","x":22,"y":18.2},{"s":"a","x":22.7,"y":18.9},{"s":"a","x":23.2,"y":19.4},{"s":"a","x":23.5,"y":19.6},{"s":"a","x":23.9,"y":19},{"s":"a","x":24.5,"y":18.2},{"s":"a","x":25.1,"y":18.2},{"s":"a","x":25.6,"y":19},{"s":"a","x":26,"y":17.9},{"s":"a","x":26.6,"y":17.9},{"s":"a","x":27.3,"y":17.1},{"s":"a","x":28.2,"y":16.7},{"s":"a","x":29.2,"y":16.4},{"s":"a","x":30.2,"y":16.1},{"s":"a","x":31.2,"y":15.9},{"s":"a","x":32.2,"y":15.7},{"s":"a","x":33.2,"y":15.5},{"s":"a","x":34.2,"y":15.3},{"s":"a","x":35,"y":15.2}
],
"letters":[
{"p":"A","t":"f","x":31.2,"y":339.5},{"p":"A","t":"e","x":31.2,"y":279.3},{"p":"A","t":"d","x":31.2,"y":216},{"p":"A","t":"c","x":31.2,"y":155},{"p":"A","t":"b","x":31.2,"y":94.3},{"p":"A","t":"a","x":31.2,"y":32},
{"p":"B","t":"f","x":31.2,"y":341},{"p":"B","t":"e","x":31.2,"y":279.3},{"p":"B","t":"d","x":31.2,"y":212.7},{"p":"B","t":"c","x":31.2,"y":151},{"p":"B","t":"b","x":31.2,"y":83.3},{"p":"B","t":"a","x":31.2,"y":32},
{"p":"C","t":"f","x":30.8,"y":339.3},{"p":"C","t":"e","x":30.8,"y":271},{"p":"C","t":"d","x":30.8,"y":202.7},{"p":"C","t":"c","x":30.8,"y":147.7},{"p":"C","t":"b","x":30.8,"y":87.7},{"p":"C","t":"a","x":30.8,"y":31}
],
"notes":[
{"p":"A","k":"tag","t":"(A)","x":31.4,"y":372.7},
{"p":"A","k":"ann","t":"(200)","x":9.78,"y":356},
{"p":"A","k":"ann","t":"(200)","x":9.88,"y":52.7},
{"p":"B","k":"tag","t":"(B)","x":31.4,"y":372.7},
{"p":"B","k":"sub","t":"(1) Acid treatment","x":20.8,"y":372},
{"p":"B","k":"ann","t":"(200)","x":9.72,"y":356},
{"p":"B","k":"ann","t":"(200)","x":11.15,"y":49.3},
{"p":"C","k":"tag","t":"(C)","x":31.0,"y":373},
{"p":"C","k":"sub","t":"(2) Calcination","x":19.3,"y":373},
{"p":"C","k":"ann","t":"(200)","x":10.87,"y":356},
{"p":"C","k":"ann","t":"(200)","x":12.65,"y":49.3}
],
"arrows":[
{"p":"A","x":6.75,"x2":8.88,"y":356},
{"p":"A","x":6.75,"x2":8.88,"y":52.7},
{"p":"B","x":6.88,"x2":9.03,"y":356},
{"p":"B","x":8.35,"x2":10.4,"y":49.3},
{"p":"C","x":7.72,"x2":9.87,"y":356},
{"p":"C","x":10.03,"x2":12.07,"y":49.3}
],
"heads":[
{"p":"A","x":8.88,"y":356},
{"p":"A","x":8.88,"y":52.7},
{"p":"B","x":9.03,"y":356},
{"p":"B","x":10.4,"y":49.3},
{"p":"C","x":9.87,"y":356},
{"p":"C","x":12.07,"y":49.3}
],
"box":[
{"p":"C","x":4.6,"x2":10.66,"y":9,"y2":373}
]
},
"hconcat":[
{
"width":306,"height":384,
"title":{"text":"Stabilization (H₂O₂)","fontSize":20,"fontWeight":"bold","color":"black","offset":14,"anchor":"middle"},
"encoding":{
"x":{"field":"x","type":"quantitative","scale":{"domain":[3,35],"nice":false,"zero":false},"axis":{"values":[5,7.5,10,12.5,15,17.5,20,22.5,25,27.5,30,32.5,35],"labelExpr":"datum.value % 5 == 0 ? datum.label : ''","labelOverlap":false,"labelFlush":false,"domain":false,"grid":false,"tickColor":"black","tickWidth":1,"tickSize":-8,"labelPadding":17,"labelFontSize":18,"labelColor":"black","title":"2 Theta (degrees)","titleFontSize":18,"titleFontWeight":"normal","titleColor":"black","titlePadding":3,"encode":{"ticks":{"update":{"y2":{"signal":"datum.value % 5 == 0 ? -8 : -4"}}}}}},
"y":{"field":"y","type":"quantitative","scale":{"domain":[0,384],"nice":false,"zero":false},"axis":{"title":"Intensity","labels":false,"ticks":false,"domain":false,"grid":false,"titleFontSize":18,"titleFontWeight":"normal","titleColor":"black","titlePadding":3}}
},
"layer":[
{"data":{"name":"A"},"mark":{"type":"line","color":"black","strokeWidth":2},"encoding":{"detail":{"field":"s"}}},
{"data":{"name":"letters"},"transform":[{"filter":"datum.p=='A'"}],"mark":{"type":"text","fontSize":20,"baseline":"alphabetic","color":"black"},"encoding":{"text":{"field":"t"}}},
{"data":{"name":"notes"},"transform":[{"filter":"datum.p=='A' && datum.k=='tag'"}],"mark":{"type":"text","fontSize":16,"fontWeight":"bold","baseline":"middle","color":"black"},"encoding":{"text":{"field":"t"}}},
{"data":{"name":"notes"},"transform":[{"filter":"datum.p=='A' && datum.k=='ann'"}],"mark":{"type":"text","fontSize":15,"fontWeight":"bold","baseline":"middle","align":"left","color":"black"},"encoding":{"text":{"field":"t"}}},
{"data":{"name":"arrows"},"transform":[{"filter":"datum.p=='A'"}],"mark":{"type":"rule","color":"black","strokeWidth":1.5},"encoding":{"x2":{"field":"x2"}}},
{"data":{"name":"heads"},"transform":[{"filter":"datum.p=='A'"}],"mark":{"type":"point","shape":"triangle-right","filled":true,"color":"black","size":50,"opacity":1},"encoding":{}}
]
},
{
"title":{"text":"Stability test","fontSize":20,"fontWeight":"bold","color":"#0000ff","offset":14,"anchor":"middle","dx":-18},
"spacing":13,
"hconcat":[
{
"width":306,"height":384,
"encoding":{
"x":{"field":"x","type":"quantitative","scale":{"domain":[3,35],"nice":false,"zero":false},"axis":{"values":[5,7.5,10,12.5,15,17.5,20,22.5,25,27.5,30,32.5,35],"labelExpr":"datum.value % 5 == 0 ? datum.label : ''","labelOverlap":false,"labelFlush":false,"domain":false,"grid":false,"tickColor":"black","tickWidth":1,"tickSize":-8,"labelPadding":17,"labelFontSize":18,"labelColor":"black","title":"2 Theta (degrees)","titleFontSize":18,"titleFontWeight":"normal","titleColor":"black","titlePadding":3,"encode":{"ticks":{"update":{"y2":{"signal":"datum.value % 5 == 0 ? -8 : -4"}}}}}},
"y":{"field":"y","type":"quantitative","scale":{"domain":[0,384],"nice":false,"zero":false},"axis":null}
},
"layer":[
{"data":{"name":"B"},"mark":{"type":"line","color":"#0000ff","strokeWidth":2},"encoding":{"detail":{"field":"s"}}},
{"data":{"name":"letters"},"transform":[{"filter":"datum.p=='B'"}],"mark":{"type":"text","fontSize":20,"baseline":"alphabetic","color":"black"},"encoding":{"text":{"field":"t"}}},
{"data":{"name":"notes"},"transform":[{"filter":"datum.p=='B' && datum.k=='tag'"}],"mark":{"type":"text","fontSize":16,"fontWeight":"bold","baseline":"middle","color":"black"},"encoding":{"text":{"field":"t"}}},
{"data":{"name":"notes"},"transform":[{"filter":"datum.p=='B' && datum.k=='sub'"}],"mark":{"type":"text","fontSize":16,"fontWeight":"bold","baseline":"middle","color":"#0000ff"},"encoding":{"text":{"field":"t"}}},
{"data":{"name":"notes"},"transform":[{"filter":"datum.p=='B' && datum.k=='ann'"}],"mark":{"type":"text","fontSize":15,"fontWeight":"bold","baseline":"middle","align":"left","color":"black"},"encoding":{"text":{"field":"t"}}},
{"data":{"name":"arrows"},"transform":[{"filter":"datum.p=='B'"}],"mark":{"type":"rule","color":"black","strokeWidth":1.5},"encoding":{"x2":{"field":"x2"}}},
{"data":{"name":"heads"},"transform":[{"filter":"datum.p=='B'"}],"mark":{"type":"point","shape":"triangle-right","filled":true,"color":"black","size":50,"opacity":1},"encoding":{}}
]
},
{
"width":306,"height":384,
"encoding":{
"x":{"field":"x","type":"quantitative","scale":{"domain":[3,35],"nice":false,"zero":false},"axis":{"values":[5,7.5,10,12.5,15,17.5,20,22.5,25,27.5,30,32.5,35],"labelExpr":"datum.value % 5 == 0 ? datum.label : ''","labelOverlap":false,"labelFlush":false,"domain":false,"grid":false,"tickColor":"black","tickWidth":1,"tickSize":-8,"labelPadding":17,"labelFontSize":18,"labelColor":"black","title":"2 Theta (degrees)","titleFontSize":18,"titleFontWeight":"normal","titleColor":"black","titlePadding":3,"encode":{"ticks":{"update":{"y2":{"signal":"datum.value % 5 == 0 ? -8 : -4"}}}}}},
"y":{"field":"y","type":"quantitative","scale":{"domain":[0,384],"nice":false,"zero":false},"axis":null}
},
"layer":[
{"data":{"name":"C"},"mark":{"type":"line","color":"#0000ff","strokeWidth":2},"encoding":{"detail":{"field":"s"}}},
{"data":{"name":"box"},"mark":{"type":"rect","fill":null,"fillOpacity":0,"stroke":"black","strokeWidth":1.3,"strokeDash":[7,4]},"encoding":{"x2":{"field":"x2"},"y2":{"field":"y2"}}},
{"data":{"name":"letters"},"transform":[{"filter":"datum.p=='C'"}],"mark":{"type":"text","fontSize":20,"baseline":"alphabetic","color":"black"},"encoding":{"text":{"field":"t"}}},
{"data":{"name":"notes"},"transform":[{"filter":"datum.p=='C' && datum.k=='tag'"}],"mark":{"type":"text","fontSize":16,"fontWeight":"bold","baseline":"middle","color":"black"},"encoding":{"text":{"field":"t"}}},
{"data":{"name":"notes"},"transform":[{"filter":"datum.p=='C' && datum.k=='sub'"}],"mark":{"type":"text","fontSize":16,"fontWeight":"bold","baseline":"middle","color":"#0000ff"},"encoding":{"text":{"field":"t"}}},
{"data":{"name":"notes"},"transform":[{"filter":"datum.p=='C' && datum.k=='ann'"}],"mark":{"type":"text","fontSize":15,"fontWeight":"bold","baseline":"middle","align":"left","color":"black"},"encoding":{"text":{"field":"t"}}},
{"data":{"name":"arrows"},"transform":[{"filter":"datum.p=='C'"}],"mark":{"type":"rule","color":"black","strokeWidth":1.5},"encoding":{"x2":{"field":"x2"}}},
{"data":{"name":"heads"},"transform":[{"filter":"datum.p=='C'"}],"mark":{"type":"point","shape":"triangle-right","filled":true,"color":"black","size":50,"opacity":1},"encoding":{}}
]
}
]
}
]
}
